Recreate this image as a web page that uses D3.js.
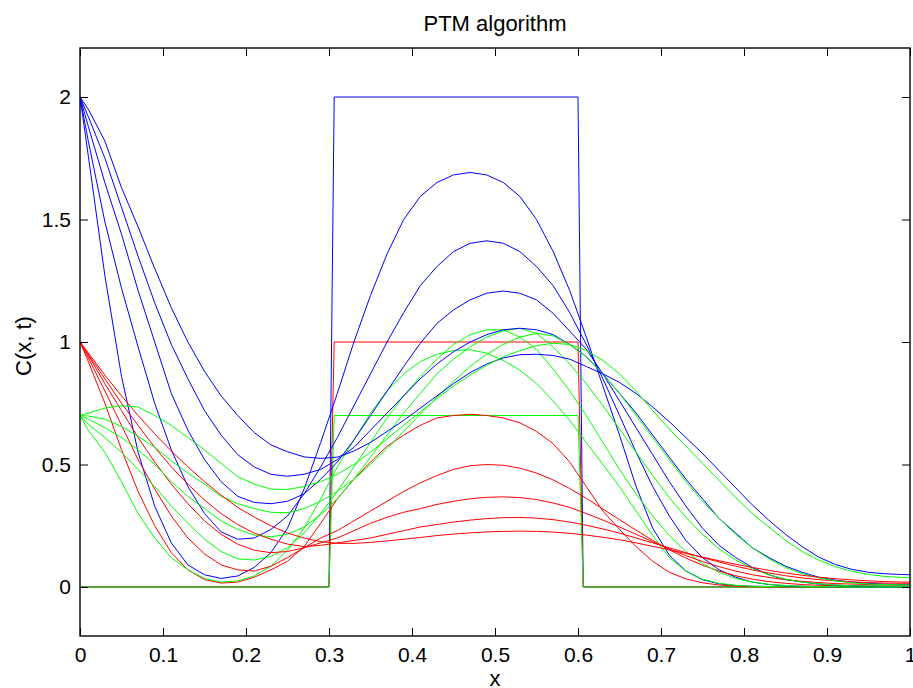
<!DOCTYPE html>
<html>
<head>
<meta charset="utf-8">
<script src="https://cdn.jsdelivr.net/npm/d3@7"></script>
<style>
  body { margin: 0; background: #fff; }
  svg text { font-family: "Liberation Sans", Arial, Helvetica, sans-serif; fill: #000; }
</style>
</head>
<body>
<svg id="chart" width="913" height="688"></svg>
<script>
// grid of cell centres plus the two ends
const xs = [0, 0.01, 0.03, 0.05, 0.07, 0.09, 0.11, 0.13, 0.15, 0.17, 0.19,
  0.21, 0.23, 0.25, 0.27, 0.29, 0.31, 0.33, 0.35, 0.37, 0.39,
  0.41, 0.43, 0.45, 0.47, 0.49, 0.51, 0.53, 0.55, 0.57, 0.59,
  0.61, 0.63, 0.65, 0.67, 0.69, 0.71, 0.73, 0.75, 0.77, 0.79,
  0.81, 0.83, 0.85, 0.87, 0.89, 0.91, 0.93, 0.95, 0.97, 0.99, 1.0];

// initial pulses (t = 0)
const xInit = [0, 0.3, 0.30625, 0.6, 0.60625, 1];
const blueInit = [0, 0, 2, 2, 0, 0];
const redInit = [0, 0, 1, 1, 0, 0];
const greenInit = [0, 0, 0.7, 0.7, 0, 0];

// later times, one row per output time
const blueCurves = [
  [2.0,1.76,1.27,0.86,0.55,0.33, 0.18,0.09,0.05,0.035,0.045, 0.08,0.14,0.24,0.40,0.59, 0.79,1.00,1.19,1.36,1.50,
   1.594,1.651,1.682,1.692,1.682, 1.651,1.594,1.50,1.37,1.21, 1.02,0.82,0.62,0.41,0.24, 0.13,0.065,0.03,0.013,0.006,
   0.003,0.002,0.001,0.001,0, 0,0,0,0,0, 0],
  [2.0,1.82,1.49,1.22,0.98,0.75, 0.56,0.41,0.30,0.225,0.195, 0.20,0.235,0.29,0.38,0.49, 0.61,0.74,0.87,1.00,1.12,
   1.23,1.308,1.369,1.403,1.413, 1.403,1.369,1.308,1.23,1.12, 0.99,0.85,0.70,0.55,0.41, 0.29,0.19,0.12,0.07,0.04,
   0.02,0.01,0.005,0.003,0.002, 0.001,0.001,0,0,0, 0],
  [2.0,1.88,1.65,1.44,1.21,1.00, 0.79,0.64,0.52,0.43,0.37, 0.345,0.34,0.35,0.38,0.44, 0.51,0.60,0.70,0.80,0.90,
   0.995,1.076,1.131,1.172,1.199, 1.208,1.199,1.172,1.117,1.045, 0.97,0.87,0.76,0.65,0.54, 0.43,0.33,0.24,0.17,0.12,
   0.08,0.05,0.03,0.02,0.012, 0.008,0.005,0.004,0.003,0.003, 0.003],
  [2.0,1.92,1.75,1.55,1.35,1.16, 0.99,0.85,0.72,0.62,0.54, 0.49,0.46,0.452,0.46,0.48, 0.52,0.57,0.64,0.71,0.78,
   0.85,0.91,0.96,1.0,1.03, 1.05,1.056,1.05,1.03,0.99, 0.94,0.87,0.79,0.71,0.62, 0.53,0.44,0.36,0.28,0.22,
   0.16,0.12,0.085,0.06,0.04, 0.028,0.02,0.015,0.012,0.01, 0.01],
  [2.0,1.95,1.82,1.63,1.47,1.30, 1.14,1.00,0.88,0.78,0.70, 0.63,0.58,0.552,0.531,0.525, 0.53,0.555,0.59,0.635,0.68,
   0.73,0.78,0.83,0.875,0.91, 0.935,0.948,0.95,0.945,0.93, 0.90,0.87,0.835,0.79,0.735, 0.675,0.61,0.545,0.475,0.405,
   0.335,0.272,0.215,0.165,0.122, 0.092,0.072,0.06,0.054,0.051, 0.05]
];

const redCurves = [
  [1.0,0.92,0.75,0.56,0.39,0.25, 0.14,0.07,0.03,0.016,0.02, 0.04,0.07,0.105,0.165,0.26, 0.36,0.44,0.51,0.575,0.62,
   0.66,0.69,0.70,0.705,0.70, 0.69,0.67,0.635,0.585,0.51, 0.41,0.31,0.235,0.165,0.105, 0.06,0.033,0.017,0.008,0.004,
   0.002,0.001,0,0,0, 0,0,0,0,0, 0],
  [1.0,0.935,0.80,0.66,0.52,0.40, 0.29,0.20,0.135,0.09,0.07, 0.065,0.085,0.12,0.16,0.20, 0.23,0.27,0.31,0.35,0.39,
   0.425,0.455,0.48,0.495,0.50, 0.497,0.485,0.465,0.437,0.402, 0.362,0.318,0.275,0.232,0.19, 0.152,0.118,0.089,0.065,0.046,
   0.032,0.022,0.015,0.01,0.007, 0.005,0.004,0.003,0.003,0.003, 0.003],
  [1.0,0.945,0.83,0.72,0.61,0.51, 0.42,0.34,0.27,0.215,0.175, 0.15,0.14,0.145,0.16,0.18, 0.20,0.23,0.26,0.285,0.305,
   0.32,0.337,0.35,0.36,0.366, 0.368,0.365,0.357,0.343,0.325, 0.30,0.273,0.245,0.215,0.185, 0.155,0.128,0.104,0.083,0.065,
   0.05,0.039,0.03,0.023,0.018, 0.014,0.012,0.01,0.009,0.008, 0.008],
  [1.0,0.95,0.85,0.75,0.66,0.57, 0.49,0.42,0.355,0.30,0.255, 0.22,0.195,0.175,0.165,0.17, 0.18,0.19,0.20,0.215,0.23,
   0.245,0.255,0.265,0.273,0.279, 0.283,0.284,0.281,0.275,0.265, 0.252,0.237,0.22,0.20,0.18, 0.16,0.14,0.12,0.102,0.085,
   0.07,0.057,0.046,0.037,0.03, 0.025,0.021,0.018,0.016,0.015, 0.015],
  [1.0,0.955,0.865,0.78,0.70,0.625, 0.555,0.49,0.43,0.375,0.325, 0.285,0.25,0.22,0.20,0.185, 0.178,0.178,0.182,0.188,0.195,
   0.202,0.21,0.216,0.221,0.225, 0.227,0.228,0.227,0.224,0.219, 0.212,0.203,0.193,0.18,0.166, 0.152,0.137,0.122,0.107,0.093,
   0.08,0.068,0.057,0.048,0.04, 0.034,0.029,0.025,0.022,0.02, 0.02]
];

const greenCurves = [
  [0.7,0.64,0.55,0.43,0.30,0.20, 0.12,0.07,0.035,0.02,0.025, 0.045,0.085,0.15,0.24,0.36, 0.49,0.60,0.71,0.80,0.87,
   0.92,0.95,0.965,0.968,0.955, 0.925,0.885,0.83,0.76,0.68, 0.59,0.50,0.41,0.31,0.21, 0.12,0.065,0.032,0.015,0.007,
   0.003,0.002,0.001,0,0, 0,0,0,0,0, 0],
  [0.7,0.665,0.61,0.55,0.48,0.41, 0.33,0.26,0.195,0.145,0.115, 0.11,0.125,0.16,0.22,0.30, 0.39,0.49,0.59,0.69,0.78,
   0.86,0.93,0.99,1.03,1.05, 1.05,1.02,0.97,0.89,0.80, 0.70,0.59,0.48,0.38,0.29, 0.21,0.145,0.095,0.06,0.035,
   0.02,0.011,0.006,0.003,0.002, 0.001,0,0,0,0, 0],
  [0.7,0.685,0.65,0.61,0.56,0.50, 0.43,0.37,0.32,0.27,0.235, 0.212,0.205,0.215,0.245,0.295, 0.36,0.44,0.53,0.62,0.71,
   0.79,0.87,0.93,0.98,1.02, 1.045,1.056,1.035,0.98,0.91, 0.83,0.74,0.645,0.55,0.455, 0.365,0.285,0.215,0.155,0.11,
   0.075,0.05,0.032,0.02,0.013, 0.008,0.005,0.004,0.003,0.003, 0.003],
  [0.7,0.698,0.685,0.655,0.615,0.57, 0.515,0.465,0.42,0.37,0.34, 0.32,0.305,0.303,0.32,0.35, 0.39,0.44,0.50,0.565,0.635,
   0.705,0.775,0.84,0.90,0.95, 0.99,1.02,1.035,1.025,0.99, 0.94,0.87,0.79,0.70,0.61, 0.52,0.43,0.35,0.28,0.215,
   0.16,0.115,0.08,0.055,0.037, 0.025,0.017,0.012,0.01,0.009, 0.009],
  [0.7,0.71,0.73,0.74,0.735,0.70, 0.66,0.61,0.56,0.505,0.45, 0.42,0.40,0.398,0.41,0.43, 0.46,0.50,0.55,0.605,0.66,
   0.715,0.77,0.82,0.865,0.905, 0.94,0.965,0.985,0.995,0.99, 0.965,0.925,0.87,0.80,0.72, 0.645,0.575,0.505,0.435,0.365,
   0.30,0.245,0.19,0.145,0.11, 0.083,0.064,0.051,0.043,0.039, 0.038]
];

const xTicks = [0, 0.1, 0.2, 0.3, 0.4, 0.5, 0.6, 0.7, 0.8, 0.9, 1];
const xTickLabels = ["0", "0.1", "0.2", "0.3", "0.4", "0.5", "0.6", "0.7", "0.8", "0.9", "1"];
const yTicks = [0, 0.5, 1, 1.5, 2];
const yTickLabels = ["0", "0.5", "1", "1.5", "2"];

const plotLeft = 80, plotRight = 910, plotTop = 48, plotBottom = 636;
const svg = d3.select("#chart");

const x = d3.scaleLinear().domain([0, 1]).range([plotLeft, plotRight]);
const y = d3.scaleLinear().domain([-0.2, 2.2]).range([plotBottom, plotTop]);

svg.append("defs").append("clipPath").attr("id", "plotclip")
  .append("rect").attr("x", plotLeft).attr("y", plotTop)
  .attr("width", plotRight - plotLeft).attr("height", plotBottom - plotTop);

const line = d3.line()
  .x(d => x(d[0]))
  .y(d => y(d[1]));

const plot = svg.append("g").attr("clip-path", "url(#plotclip)");

// draw in time order: blue, red, green for each output time
const colors = { blue: "#0000ff", red: "#ff0000", green: "#00ff00" };
const series = [];
series.push({ c: colors.blue, pts: d3.zip(xInit, blueInit) });
series.push({ c: colors.red, pts: d3.zip(xInit, redInit) });
series.push({ c: colors.green, pts: d3.zip(xInit, greenInit) });
for (let t = 0; t < blueCurves.length; t++) {
  series.push({ c: colors.blue, pts: d3.zip(xs, blueCurves[t]) });
  series.push({ c: colors.red, pts: d3.zip(xs, redCurves[t]) });
  series.push({ c: colors.green, pts: d3.zip(xs, greenCurves[t]) });
}

plot.selectAll("path.curve")
  .data(series)
  .join("path")
  .attr("class", "curve")
  .attr("d", d => line(d.pts))
  .attr("fill", "none")
  .attr("stroke", d => d.c)
  .attr("stroke-width", 1)
  .attr("stroke-linejoin", "round");

// axes, matlab style: ticks inside on all four sides
const tickLen = 8;
const fontSize = "21px";

const xAxis = d3.axisBottom(x).tickValues(xTicks)
  .tickFormat((d, i) => xTickLabels[i])
  .tickSize(-tickLen).tickPadding(11);
const gx = svg.append("g").attr("transform", `translate(0,${plotBottom})`).call(xAxis);

const yAxis = d3.axisLeft(y).tickValues(yTicks)
  .tickFormat((d, i) => yTickLabels[i])
  .tickSize(-tickLen).tickPadding(9);
const gy = svg.append("g").attr("transform", `translate(${plotLeft},0)`).call(yAxis);

const gxt = svg.append("g").attr("transform", `translate(0,${plotTop})`)
  .call(d3.axisTop(x).tickValues(xTicks).tickFormat("").tickSize(-tickLen));
const gyr = svg.append("g").attr("transform", `translate(${plotRight},0)`)
  .call(d3.axisRight(y).tickValues(yTicks).tickFormat("").tickSize(-tickLen));

[gx, gy, gxt, gyr].forEach(g => {
  g.select(".domain").remove();
  g.selectAll(".tick line").attr("stroke", "#000").attr("stroke-width", 1);
  g.selectAll(".tick text").style("font-size", fontSize).attr("fill", "#000");
});

svg.append("rect")
  .attr("x", plotLeft).attr("y", plotTop)
  .attr("width", plotRight - plotLeft).attr("height", plotBottom - plotTop)
  .attr("fill", "none").attr("stroke", "#000").attr("stroke-width", 1.4);

svg.append("text")
  .attr("x", (plotLeft + plotRight) / 2).attr("y", 31)
  .attr("text-anchor", "middle").style("font-size", "22px")
  .text("PTM algorithm");

svg.append("text")
  .attr("x", (plotLeft + plotRight) / 2).attr("y", 686)
  .attr("text-anchor", "middle").style("font-size", "22px")
  .text("x");

svg.append("text")
  .attr("transform", `translate(31,346) rotate(-90)`)
  .attr("text-anchor", "middle").style("font-size", "22px")
  .text("C(x, t)");
</script>
</body>
</html>
